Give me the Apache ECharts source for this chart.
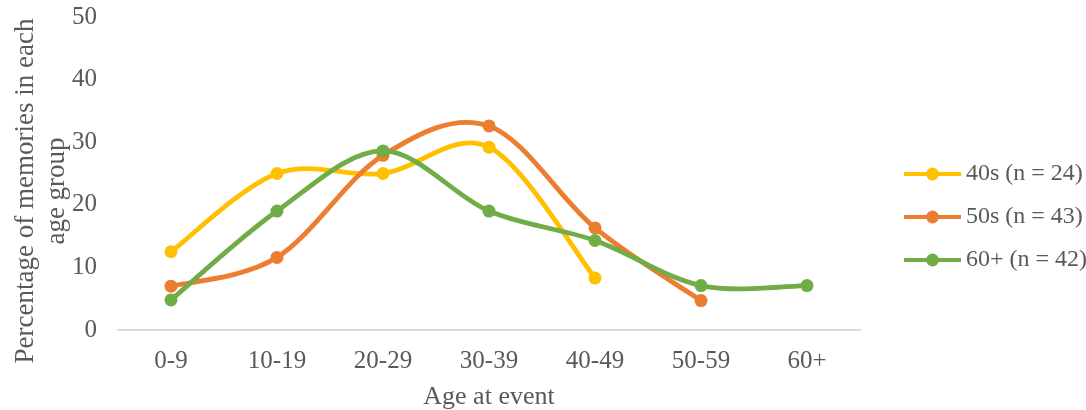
<!DOCTYPE html>
<html>
<head>
<meta charset="utf-8">
<title>Age at event</title>
<script src="https://cdn.jsdelivr.net/npm/echarts@6/dist/echarts.min.js"></script>
<style>
  html, body { margin: 0; padding: 0; background: #ffffff; }
  #chart { width: 1086px; height: 410px; }
</style>
</head>
<body>
<div id="chart"></div>
<script>
// Age bands on the x axis
const ageGroups = ['0-9', '10-19', '20-29', '30-39', '40-49', '50-59', '60+'];

// Percentage of memories falling in each age band, per participant group
const group40s = [12.5, 25.0, 25.0, 29.2, 8.3, null, null];
const group50s = [7.0, 11.6, 27.9, 32.6, 16.3, 4.7, null];
const group60plus = [4.8, 19.0, 28.6, 19.0, 14.3, 7.1, 7.1];

const seriesNames = ['40s (n = 24)', '50s (n = 43)', '60+ (n = 42)'];
const seriesColors = ['#FFC000', '#ED7D31', '#70AD47'];

// Y axis range
const yMin = 0, yMax = 50, yStep = 10;

const FONT = '"Liberation Serif", "Times New Roman", serif';
const TEXT = '#595959';
const LINE_WIDTH = 4.8;

// Cardinal (Catmull-Rom) spline through the projected points of one group,
// built from the axis scales via api.coord. Breaks at missing values.
function splinePath(values, api) {
  const pts = [];
  values.forEach(function (v, i) {
    if (v != null) pts.push(api.coord([i, v]));
  });
  if (pts.length < 2) return '';
  let d = 'M' + pts[0][0] + ',' + pts[0][1];
  for (let i = 0; i < pts.length - 1; i++) {
    const p0 = pts[i - 1] || pts[i];
    const p1 = pts[i];
    const p2 = pts[i + 1];
    const p3 = pts[i + 2] || pts[i + 1];
    const c1x = p1[0] + (p2[0] - p0[0]) / 6;
    const c1y = p1[1] + (p2[1] - p0[1]) / 6;
    const c2x = p2[0] - (p3[0] - p1[0]) / 6;
    const c2y = p2[1] - (p3[1] - p1[1]) / 6;
    d += ' C' + c1x + ',' + c1y + ' ' + c2x + ',' + c2y + ' ' + p2[0] + ',' + p2[1];
  }
  return d;
}

function curveSeries(values, color, z) {
  return {
    type: 'custom',
    coordinateSystem: 'cartesian2d',
    silent: true,
    z: z,
    data: [[0, values.find(function (v) { return v != null; })]],
    renderItem: function (params, api) {
      return {
        type: 'path',
        shape: { pathData: splinePath(values, api) },
        style: { stroke: color, lineWidth: LINE_WIDTH, fill: 'none', lineCap: 'round', lineJoin: 'round' }
      };
    }
  };
}

// Markers (and legend entries) for each group; the curve itself comes from curveSeries
function markerSeries(name, data, color, z) {
  return {
    name: name,
    type: 'line',
    data: data,
    z: z,
    symbol: 'circle',
    symbolSize: 13,
    connectNulls: false,
    lineStyle: { width: LINE_WIDTH, color: color, opacity: 0 },
    itemStyle: { color: color },
    emphasis: { disabled: true }
  };
}

const chart = echarts.init(document.getElementById('chart'), null, { renderer: 'canvas' });

chart.setOption({
  animation: false,
  backgroundColor: '#ffffff',
  textStyle: { fontFamily: FONT, color: TEXT },
  grid: { left: 118, right: 226, top: 17, bottom: 80, containLabel: false, outerBoundsMode: 'none' },
  legend: {
    orient: 'vertical',
    left: 897,
    top: 157,
    itemWidth: 57,
    itemHeight: 16,
    itemGap: 19,
    data: seriesNames,
    lineStyle: { opacity: 1, width: 4 },
    textStyle: { fontFamily: FONT, fontSize: 24, color: TEXT, lineHeight: 23 }
  },
  graphic: [{
    type: 'text',
    x: 41,
    y: 191,
    rotation: Math.PI / 2,
    style: {
      text: 'Percentage of memories in each\nage group',
      fontFamily: FONT,
      fontSize: 27,
      lineHeight: 31,
      fill: TEXT,
      align: 'center',
      verticalAlign: 'middle'
    }
  }],
  xAxis: {
    type: 'category',
    data: ageGroups,
    boundaryGap: true,
    name: 'Age at event',
    nameLocation: 'middle',
    nameGap: 54,
    nameTextStyle: { fontFamily: FONT, fontSize: 26, color: TEXT },
    axisLine: { show: true, lineStyle: { color: '#D9D9D9', width: 2 } },
    axisTick: { show: false },
    axisLabel: { fontFamily: FONT, fontSize: 25, color: TEXT, margin: 19 },
    splitLine: { show: false }
  },
  yAxis: {
    type: 'value',
    min: yMin,
    max: yMax,
    interval: yStep,
    axisLine: { show: false },
    axisTick: { show: false },
    axisLabel: { fontFamily: FONT, fontSize: 25, color: TEXT, margin: 21 },
    splitLine: { show: false }
  },
  series: [
    curveSeries(group40s, seriesColors[0], 2),
    markerSeries(seriesNames[0], group40s, seriesColors[0], 3),
    curveSeries(group50s, seriesColors[1], 4),
    markerSeries(seriesNames[1], group50s, seriesColors[1], 5),
    curveSeries(group60plus, seriesColors[2], 6),
    markerSeries(seriesNames[2], group60plus, seriesColors[2], 7)
  ]
});
</script>
</body>
</html>
